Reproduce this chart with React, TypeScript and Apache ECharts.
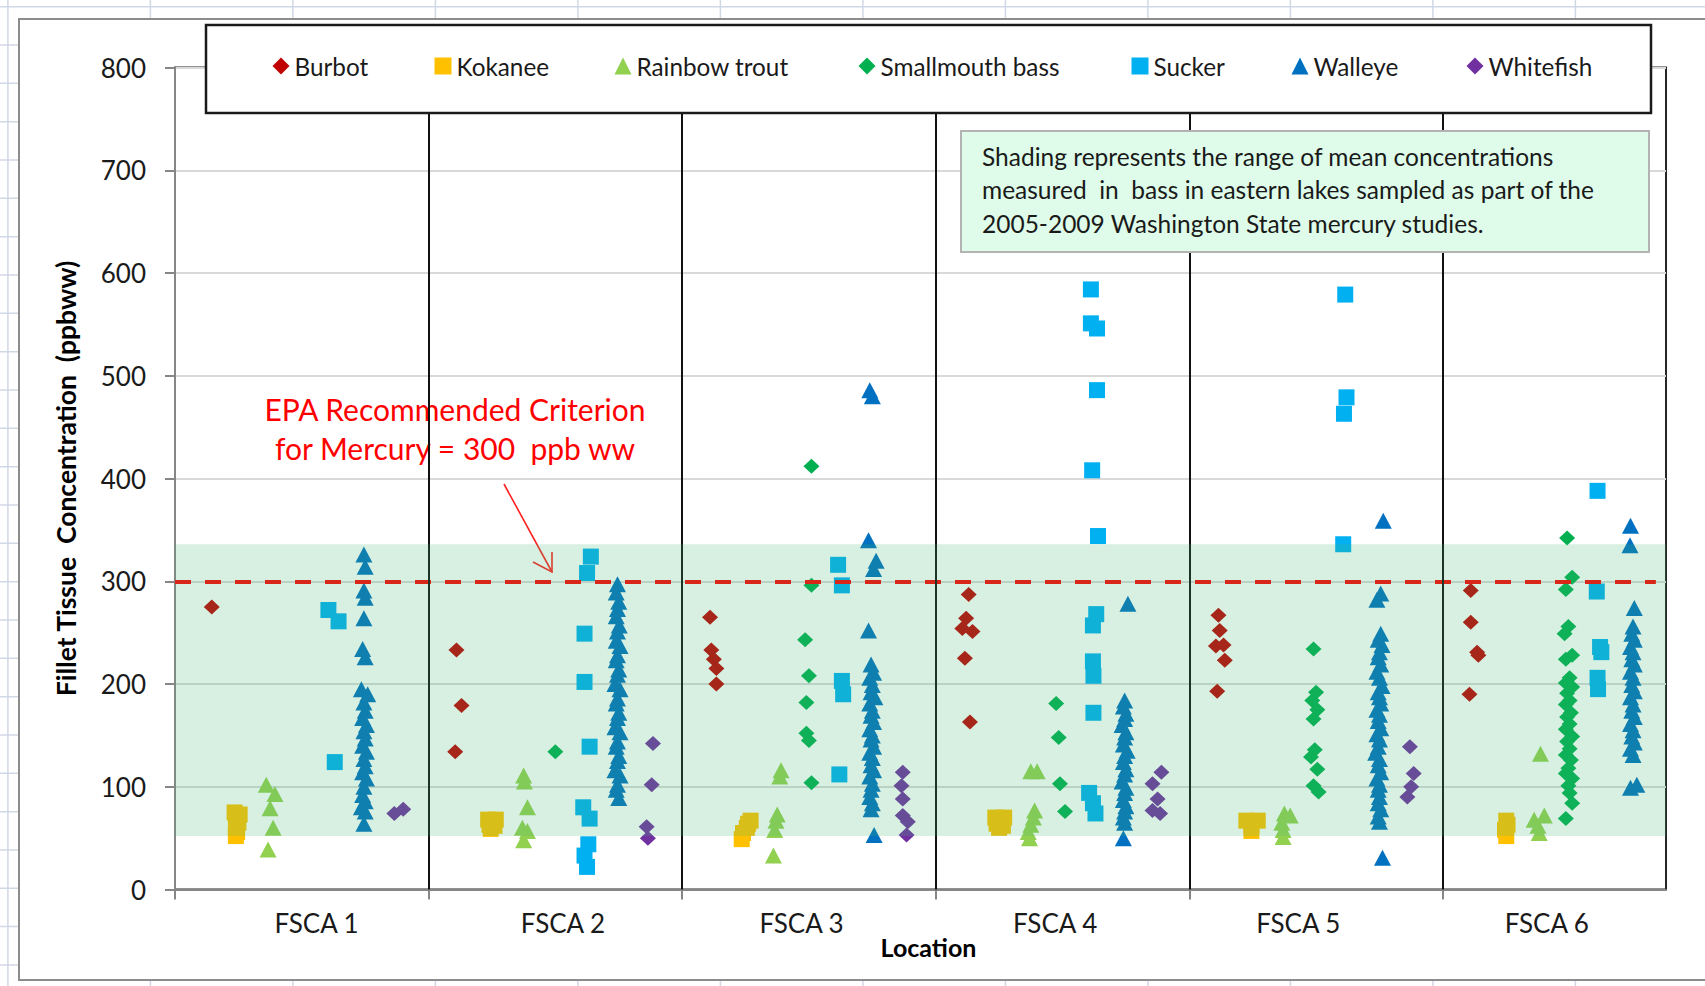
import React, { useEffect, useRef } from 'react';
import * as echarts from 'echarts';

// Sampling locations; location n occupies the x range n-1 .. n
const locations = ['FSCA 1', 'FSCA 2', 'FSCA 3', 'FSCA 4', 'FSCA 5', 'FSCA 6'];
const locationBoundaries = [0, 1, 2, 3, 4, 5];
const locationLabelAt = [0.558, 1.53, 2.471, 3.471, 4.43, 5.41];
const xMax = 5.88;
const yMin = 0;
const yMax = 800;
const yStep = 100;

// EPA criterion and the eastern-lakes bass range (ppb ww)
const criterion = 300;
const bassRange = [52, 336];

// Fillet mercury, ppb wet weight: [position within location, concentration]
const burbot = [
  [0.145, 275],
  [1.11, 233], [1.13, 179], [1.105, 134],
  [2.11, 265], [2.115, 233], [2.125, 224], [2.135, 215], [2.135, 200],
  [3.13, 287], [3.12, 264], [3.105, 254], [3.145, 251], [3.115, 225], [3.135, 163],
  [4.115, 267], [4.12, 252], [4.105, 237], [4.135, 238], [4.14, 223], [4.11, 193],
  [5.11, 291], [5.11, 260], [5.135, 231], [5.14, 228], [5.105, 190],
];
const kokanee = [
  [0.235, 75], [0.255, 73], [0.245, 69], [0.25, 65], [0.24, 60], [0.245, 56], [0.24, 52],
  [1.235, 68], [1.265, 68], [1.24, 63], [1.26, 62], [1.245, 59],
  [2.27, 67], [2.26, 64], [2.255, 60], [2.24, 55], [2.235, 49],
  [3.235, 70], [3.27, 70], [3.24, 64], [3.265, 62], [3.25, 60],
  [4.225, 67], [4.27, 67], [4.245, 62], [4.245, 57],
  [5.25, 67], [5.255, 63], [5.245, 58], [5.25, 52],
];
const rainbowTrout = [
  [0.36, 102], [0.394, 93], [0.375, 79], [0.387, 60], [0.367, 39],
  [1.375, 111], [1.378, 105], [1.39, 80], [1.37, 60], [1.39, 57], [1.375, 48],
  [2.39, 116], [2.385, 110], [2.375, 73], [2.37, 67], [2.365, 58], [2.36, 33],
  [3.375, 115], [3.4, 115], [3.39, 77], [3.385, 70], [3.375, 63], [3.365, 56], [3.37, 50],
  [4.375, 74], [4.398, 72], [4.365, 65], [4.37, 58], [4.37, 51],
  [5.385, 132], [5.36, 68], [5.4, 72], [5.375, 62], [5.38, 55],
];
const smallmouthBass = [
  [1.5, 134],
  [2.51, 412], [2.51, 296], [2.485, 243], [2.5, 208], [2.49, 182], [2.49, 152], [2.5, 145], [2.51, 104],
  [3.475, 181], [3.485, 148], [3.49, 103], [3.51, 76],
  [4.49, 234], [4.5, 192], [4.485, 184], [4.505, 175], [4.49, 166], [4.495, 136], [4.48, 129],
  [4.505, 117], [4.49, 101], [4.51, 95],
  [5.49, 342], [5.51, 304], [5.485, 292], [5.495, 256], [5.48, 249], [5.51, 228], [5.485, 224],
  [5.5, 206], [5.485, 201], [5.51, 197], [5.49, 191], [5.5, 184], [5.485, 180], [5.505, 172],
  [5.49, 168], [5.5, 161], [5.485, 156], [5.51, 149], [5.49, 144], [5.5, 137], [5.485, 131],
  [5.505, 126], [5.495, 118], [5.485, 113], [5.51, 108], [5.495, 101], [5.5, 94], [5.51, 84],
  [5.485, 69],
];
const sucker = [
  [0.605, 272], [0.645, 261], [0.63, 124],
  [1.64, 324], [1.625, 308], [1.615, 249], [1.615, 202], [1.635, 139], [1.61, 80], [1.635, 69],
  [1.63, 44], [1.615, 33], [1.625, 22],
  [2.615, 316], [2.63, 296], [2.63, 203], [2.635, 190], [2.62, 112],
  [3.612, 584], [3.612, 551], [3.636, 546], [3.636, 486], [3.617, 408], [3.64, 344], [3.633, 268],
  [3.62, 257], [3.62, 222], [3.622, 208], [3.622, 172], [3.605, 94], [3.62, 84], [3.63, 74],
  [4.615, 579], [4.62, 479], [4.61, 463], [4.607, 336],
  [5.61, 388], [5.607, 290], [5.62, 236], [5.625, 231], [5.61, 206], [5.612, 195],
];
const walleye = [
  [0.745, 326], [0.75, 314], [0.745, 291], [0.75, 284], [0.745, 264], [0.74, 234], [0.75, 226],
  [0.735, 195], [0.76, 190], [0.745, 182], [0.75, 174], [0.74, 167], [0.755, 160], [0.745, 154],
  [0.75, 147], [0.74, 140], [0.755, 134], [0.745, 127], [0.75, 120], [0.74, 114], [0.755, 108],
  [0.745, 100], [0.74, 92], [0.75, 86], [0.735, 80], [0.75, 76], [0.745, 64],
  [1.745, 297], [1.74, 289], [1.75, 280], [1.745, 273], [1.74, 266], [1.752, 257], [1.745, 251],
  [1.74, 242], [1.755, 237], [1.745, 228], [1.74, 223], [1.75, 214], [1.745, 209], [1.735, 200],
  [1.755, 195], [1.745, 186], [1.74, 181], [1.75, 172], [1.745, 167], [1.735, 158], [1.755, 153],
  [1.745, 144], [1.74, 139], [1.75, 130], [1.745, 125], [1.735, 116], [1.755, 111], [1.745, 102],
  [1.74, 97], [1.75, 89],
  [2.74, 486], [2.75, 480], [2.735, 340], [2.765, 320], [2.755, 312], [2.735, 252],
  [2.745, 219], [2.755, 211], [2.74, 206], [2.75, 199], [2.745, 192], [2.76, 187], [2.74, 181],
  [2.75, 174], [2.745, 169], [2.755, 163], [2.74, 156], [2.75, 150], [2.745, 146], [2.755, 139],
  [2.74, 133], [2.75, 128], [2.745, 121], [2.755, 116], [2.74, 110], [2.75, 103], [2.745, 97],
  [2.74, 90], [2.75, 84], [2.745, 78], [2.757, 53],
  [3.758, 278], [3.745, 184], [3.74, 178], [3.75, 171], [3.745, 166], [3.735, 160], [3.75, 153],
  [3.745, 148], [3.74, 141], [3.755, 135], [3.745, 130], [3.74, 124], [3.75, 117], [3.745, 112],
  [3.735, 105], [3.75, 99], [3.745, 94], [3.74, 87], [3.75, 81], [3.745, 76], [3.74, 70],
  [3.745, 65], [3.74, 50],
  [4.765, 359], [4.755, 288], [4.74, 282],
  [4.755, 249], [4.745, 243], [4.76, 238], [4.75, 231], [4.745, 226], [4.755, 219], [4.74, 212],
  [4.75, 206], [4.76, 198], [4.745, 192], [4.75, 187], [4.755, 181], [4.74, 175], [4.75, 170],
  [4.745, 164], [4.755, 157], [4.74, 151], [4.75, 146], [4.745, 139], [4.735, 133], [4.75, 127],
  [4.745, 121], [4.755, 114], [4.74, 108], [4.75, 102], [4.745, 97], [4.75, 90], [4.745, 84],
  [4.755, 78], [4.745, 71], [4.75, 66], [4.762, 31],
  [5.74, 354], [5.738, 335], [5.755, 274],
  [5.75, 256], [5.745, 249], [5.755, 243], [5.74, 236], [5.75, 231], [5.745, 224], [5.755, 219],
  [5.74, 212], [5.75, 206], [5.745, 199], [5.755, 193], [5.74, 187], [5.75, 180], [5.745, 174],
  [5.755, 168], [5.74, 161], [5.75, 155], [5.745, 149], [5.755, 143], [5.74, 137], [5.75, 131],
  [5.765, 102], [5.74, 99],
];
const whitefish = [
  [0.865, 74], [0.9, 78],
  [1.885, 142], [1.88, 102], [1.86, 61], [1.865, 50],
  [2.87, 114], [2.865, 101], [2.87, 88], [2.87, 72], [2.89, 66], [2.885, 53],
  [3.89, 114], [3.855, 103], [3.875, 88], [3.855, 77], [3.885, 74],
  [4.87, 139], [4.885, 113], [4.875, 100], [4.86, 90],
];

const speciesNames = [
  'Burbot', 'Kokanee', 'Rainbow trout', 'Smallmouth bass', 'Sucker', 'Walleye', 'Whitefish',
];
const speciesData = [burbot, kokanee, rainbowTrout, smallmouthBass, sucker, walleye, whitefish];
const speciesColors = ['#c00000', '#ffc000', '#92d050', '#00b050', '#00b0f0', '#0070c0', '#7030a0'];
const speciesSymbols = ['diamond', 'rect', 'triangle', 'diamond', 'rect', 'triangle', 'diamond'];

const noteLines = [
  'Shading represents the range of mean concentrations',
  'measured  in  bass in eastern lakes sampled as part of the',
  '2005-2009 Washington State mercury studies.',
];
const criterionLines = ['EPA Recommended Criterion', 'for Mercury = 300  ppb ww'];

const FONT = 'Lato, "Open Sans", sans-serif';
const W = 1705;
const H = 986;

// Legend marker left edges, one legend per species
const legendLeft = [272.5, 434.5, 614.5, 858.5, 1131.5, 1291.5, 1466.5];

const symbolSize = (s: string) =>
  s === 'diamond' ? [16, 15] : s === 'triangle' ? [17, 16] : [16, 16];

function sheetGrid() {
  const els: any[] = [];
  for (let x = 7.9; x < W; x += 142.5) {
    els.push({
      type: 'line', z: -100, silent: true,
      shape: { x1: x, y1: 0, x2: x, y2: H },
      style: { stroke: '#d0d7e5', lineWidth: 1.5 },
    });
  }
  for (let y = 6.7; y < H; y += 38.33) {
    els.push({
      type: 'line', z: -100, silent: true,
      shape: { x1: 0, y1: y, x2: W, y2: y },
      style: { stroke: '#d0d7e5', lineWidth: 1.5 },
    });
  }
  return els;
}

export default function App() {
  const ref = useRef<HTMLDivElement>(null);

  useEffect(() => {
    if (!ref.current) return;
    const chart = echarts.init(ref.current, undefined, { renderer: 'svg' });

    const scatterSeries = speciesNames.map((name, i) => ({
      name,
      type: 'scatter',
      data: speciesData[i],
      symbol: speciesSymbols[i],
      symbolSize: symbolSize(speciesSymbols[i]),
      itemStyle: { color: speciesColors[i], opacity: 1 },
      emphasis: { disabled: true },
      silent: true,
      z: 2,
    }));

    const option: any = {
      animation: false,
      backgroundColor: 'transparent',
      textStyle: { fontFamily: FONT },
      grid: {
        left: 175, right: W - 1666, top: 67.5, bottom: H - 889.5,
        show: true, borderColor: '#262626', borderWidth: 2, backgroundColor: 'transparent',
      },
      xAxis: {
        type: 'value', min: 0, max: xMax, interval: 1,
        axisLine: { show: true, lineStyle: { color: '#868686', width: 2 } },
        axisTick: {
          show: true, length: 10, customValues: locationBoundaries,
          lineStyle: { color: '#868686', width: 2 },
        },
        axisLabel: {
          customValues: locationLabelAt,
          formatter: (v: number) => {
            const i = locationLabelAt.findIndex((a) => Math.abs(a - v) < 1e-6);
            return i >= 0 ? locations[i] : '';
          },
          fontFamily: FONT, fontSize: 26, color: '#1a1a1a', margin: 20,
        },
        splitLine: { show: false },
        name: 'Location', nameLocation: 'middle', nameGap: 45, nameMoveOverlap: false,
        nameTextStyle: {
          fontFamily: FONT, fontWeight: 'bold', fontSize: 25, color: '#000',
          padding: [0, 0, 0, 16],
        },
      },
      yAxis: {
        type: 'value', min: yMin, max: yMax, interval: yStep,
        axisLine: { show: true, lineStyle: { color: '#868686', width: 2 } },
        axisTick: { show: true, length: 10, lineStyle: { color: '#868686', width: 2 } },
        axisLabel: { fontFamily: FONT, fontSize: 26, color: '#1a1a1a', margin: 29 },
        splitLine: { show: true, lineStyle: { color: '#d9d9d9', width: 2 } },
        name: 'Fillet Tissue  Concentration  (ppbww)', nameLocation: 'middle',
        nameRotate: 90, nameGap: 96,
        nameTextStyle: { fontFamily: FONT, fontWeight: 'bold', fontSize: 26.5, color: '#000' },
      },
      legend: speciesNames.map((name, i) => ({
        data: [name],
        left: legendLeft[i], top: 54, padding: 0, itemGap: 0,
        itemWidth: 17, itemHeight: 17, selectedMode: false, z: 30,
        textStyle: { fontFamily: FONT, fontSize: 24.3, color: '#1a1a1a' },
      })),
      series: [
        ...scatterSeries,
        {
          name: 'criterion',
          type: 'line', data: [], silent: true,
          markLine: {
            z: 5, silent: true, symbol: 'none', label: { show: false },
            emphasis: { disabled: true },
            data: [
              [
                { coord: [0, criterion], lineStyle: { color: '#ff0000', width: 4, type: [16, 14] } },
                { coord: [5.84, criterion] },
              ],
              ...locationBoundaries.slice(1).map((b) => ({
                xAxis: b, lineStyle: { color: '#111', width: 2, type: 'solid' },
              })),
            ],
          },
        },
        {
          name: 'bass range',
          type: 'line', data: [], silent: true,
          markArea: {
            z: 10, silent: true, label: { show: false },
            itemStyle: { color: 'rgba(69,183,117,0.21)' },
            emphasis: { disabled: true },
            data: [[{ yAxis: bassRange[0] }, { yAxis: bassRange[1] }]],
          },
        },
      ],
      graphic: [
        ...sheetGrid(),
        {
          type: 'rect', z: -90, silent: true,
          shape: { x: 19, y: 19, width: W + 20, height: 961 },
          style: { fill: '#fff', stroke: '#8c8c8c', lineWidth: 2 },
        },
        {
          type: 'rect', z: 20, silent: true,
          shape: { x: 206, y: 25, width: 1445, height: 88 },
          style: { fill: '#fff', stroke: '#1a1a1a', lineWidth: 2.5 },
        },
        {
          type: 'rect', z: 20, silent: true,
          shape: { x: 961, y: 131, width: 688, height: 121 },
          style: { fill: '#defce9', stroke: '#b3b3b3', lineWidth: 2 },
        },
        ...noteLines.map((t, i) => ({
          type: 'text', z: 21, silent: true,
          x: 982, y: 156 + i * 33.5,
          style: {
            text: t, fill: '#1a1a1a', font: `24.5px ${FONT}`,
            textAlign: 'left', verticalAlign: 'middle', textVerticalAlign: 'middle',
          },
        })),
        ...criterionLines.map((t, i) => ({
          type: 'text', z: 3, silent: true,
          x: 455, y: 409 + i * 39,
          style: {
            text: t, fill: '#ff0000', font: `30px ${FONT}`,
            textAlign: 'center', verticalAlign: 'middle', textVerticalAlign: 'middle',
          },
        })),
        {
          type: 'polyline', z: 3, silent: true,
          shape: { points: [[504, 484], [552, 572]] },
          style: { stroke: '#ff2020', lineWidth: 1.6, fill: null },
        },
        {
          type: 'polyline', z: 3, silent: true,
          shape: { points: [[533, 562], [552, 572], [552, 552]] },
          style: { stroke: '#ff2020', lineWidth: 1.6, fill: null },
        },
      ],
    };

    chart.setOption(option);
    return () => chart.dispose();
  }, []);

  return (
    <div
      ref={ref}
      style={{ position: 'fixed', left: 0, top: 0, width: W, height: H, background: '#fff' }}
    />
  );
}
